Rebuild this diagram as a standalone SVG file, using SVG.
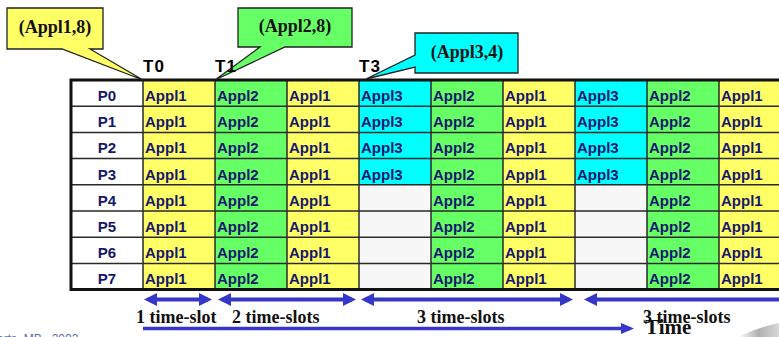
<svg xmlns="http://www.w3.org/2000/svg" width="779" height="337" viewBox="0 0 779 337">
  <style>
    .a1 { fill: #FFFF66; }
    .a2 { fill: #66FF66; }
    .a3 { fill: #00FFFF; }
    .em { fill: #F7F7F7; }
    .lbl { fill: #FFFFFF; }
    .cell { font-family: "Liberation Sans", Arial, sans-serif; font-weight: bold; font-size: 15px; fill: #16166E; }
    .plab { font-family: "Liberation Sans", Arial, sans-serif; font-weight: bold; font-size: 15px; fill: #16166E; text-anchor: middle; }
    .grid { stroke: #2a2a2a; stroke-width: 1.5; fill: none; }
    .frame { stroke: #111; stroke-width: 3; fill: none; }
    .tick { font-family: "Liberation Sans", Arial, sans-serif; font-weight: bold; font-size: 17px; fill: #000; letter-spacing: 1px; }
    .callout { stroke: #222; stroke-width: 1.3; }
    .ctext { font-family: "Liberation Serif", "Times New Roman", serif; font-weight: bold; font-size: 18px; fill: #111; text-anchor: middle; }
    .span { stroke: #3636C8; stroke-width: 4; fill: none; }
    .slot { font-family: "Liberation Serif", "Times New Roman", serif; font-weight: bold; font-size: 18px; fill: #111; }
  </style>
  <defs>
    <marker id="head" markerUnits="userSpaceOnUse" markerWidth="13" markerHeight="13" refX="9" refY="6.5" orient="auto-start-reverse">
      <path d="M0,0 L13,6.5 L0,13 Z" fill="#3636C8"/>
    </marker>
    <marker id="timehead" markerUnits="userSpaceOnUse" markerWidth="13" markerHeight="11" refX="9" refY="5.5" orient="auto">
      <path d="M0,0 L13,5.5 L0,11 Z" fill="#3636C8"/>
    </marker>
    <linearGradient id="swoosh" x1="0" y1="0" x2="1" y2="0">
      <stop offset="0" stop-color="#ffffff"/>
      <stop offset="0.5" stop-color="#b0b0b0"/>
      <stop offset="1" stop-color="#d8d8d8"/>
    </linearGradient>
  </defs>

  <!-- schedule table: cell fills -->
  <g id="table">
    <g id="row-p0">
      <rect class="lbl" x="71" y="80" width="72" height="26.2"/>
      <rect class="a1" x="143" y="80" width="72" height="26.2"/>
      <rect class="a2" x="215" y="80" width="72" height="26.2"/>
      <rect class="a1" x="287" y="80" width="72" height="26.2"/>
      <rect class="a3" x="359" y="80" width="72" height="26.2"/>
      <rect class="a2" x="431" y="80" width="72" height="26.2"/>
      <rect class="a1" x="503" y="80" width="72" height="26.2"/>
      <rect class="a3" x="575" y="80" width="72" height="26.2"/>
      <rect class="a2" x="647" y="80" width="72" height="26.2"/>
      <rect class="a1" x="719" y="80" width="72" height="26.2"/>
    </g>
    <g id="row-p1">
      <rect class="lbl" x="71" y="106.2" width="72" height="26.2"/>
      <rect class="a1" x="143" y="106.2" width="72" height="26.2"/>
      <rect class="a2" x="215" y="106.2" width="72" height="26.2"/>
      <rect class="a1" x="287" y="106.2" width="72" height="26.2"/>
      <rect class="a3" x="359" y="106.2" width="72" height="26.2"/>
      <rect class="a2" x="431" y="106.2" width="72" height="26.2"/>
      <rect class="a1" x="503" y="106.2" width="72" height="26.2"/>
      <rect class="a3" x="575" y="106.2" width="72" height="26.2"/>
      <rect class="a2" x="647" y="106.2" width="72" height="26.2"/>
      <rect class="a1" x="719" y="106.2" width="72" height="26.2"/>
    </g>
    <g id="row-p2">
      <rect class="lbl" x="71" y="132.4" width="72" height="26.2"/>
      <rect class="a1" x="143" y="132.4" width="72" height="26.2"/>
      <rect class="a2" x="215" y="132.4" width="72" height="26.2"/>
      <rect class="a1" x="287" y="132.4" width="72" height="26.2"/>
      <rect class="a3" x="359" y="132.4" width="72" height="26.2"/>
      <rect class="a2" x="431" y="132.4" width="72" height="26.2"/>
      <rect class="a1" x="503" y="132.4" width="72" height="26.2"/>
      <rect class="a3" x="575" y="132.4" width="72" height="26.2"/>
      <rect class="a2" x="647" y="132.4" width="72" height="26.2"/>
      <rect class="a1" x="719" y="132.4" width="72" height="26.2"/>
    </g>
    <g id="row-p3">
      <rect class="lbl" x="71" y="158.6" width="72" height="26.2"/>
      <rect class="a1" x="143" y="158.6" width="72" height="26.2"/>
      <rect class="a2" x="215" y="158.6" width="72" height="26.2"/>
      <rect class="a1" x="287" y="158.6" width="72" height="26.2"/>
      <rect class="a3" x="359" y="158.6" width="72" height="26.2"/>
      <rect class="a2" x="431" y="158.6" width="72" height="26.2"/>
      <rect class="a1" x="503" y="158.6" width="72" height="26.2"/>
      <rect class="a3" x="575" y="158.6" width="72" height="26.2"/>
      <rect class="a2" x="647" y="158.6" width="72" height="26.2"/>
      <rect class="a1" x="719" y="158.6" width="72" height="26.2"/>
    </g>
    <g id="row-p4">
      <rect class="lbl" x="71" y="184.8" width="72" height="26.2"/>
      <rect class="a1" x="143" y="184.8" width="72" height="26.2"/>
      <rect class="a2" x="215" y="184.8" width="72" height="26.2"/>
      <rect class="a1" x="287" y="184.8" width="72" height="26.2"/>
      <rect class="em" x="359" y="184.8" width="72" height="26.2"/>
      <rect class="a2" x="431" y="184.8" width="72" height="26.2"/>
      <rect class="a1" x="503" y="184.8" width="72" height="26.2"/>
      <rect class="em" x="575" y="184.8" width="72" height="26.2"/>
      <rect class="a2" x="647" y="184.8" width="72" height="26.2"/>
      <rect class="a1" x="719" y="184.8" width="72" height="26.2"/>
    </g>
    <g id="row-p5">
      <rect class="lbl" x="71" y="211" width="72" height="26.2"/>
      <rect class="a1" x="143" y="211" width="72" height="26.2"/>
      <rect class="a2" x="215" y="211" width="72" height="26.2"/>
      <rect class="a1" x="287" y="211" width="72" height="26.2"/>
      <rect class="em" x="359" y="211" width="72" height="26.2"/>
      <rect class="a2" x="431" y="211" width="72" height="26.2"/>
      <rect class="a1" x="503" y="211" width="72" height="26.2"/>
      <rect class="em" x="575" y="211" width="72" height="26.2"/>
      <rect class="a2" x="647" y="211" width="72" height="26.2"/>
      <rect class="a1" x="719" y="211" width="72" height="26.2"/>
    </g>
    <g id="row-p6">
      <rect class="lbl" x="71" y="237.2" width="72" height="26.2"/>
      <rect class="a1" x="143" y="237.2" width="72" height="26.2"/>
      <rect class="a2" x="215" y="237.2" width="72" height="26.2"/>
      <rect class="a1" x="287" y="237.2" width="72" height="26.2"/>
      <rect class="em" x="359" y="237.2" width="72" height="26.2"/>
      <rect class="a2" x="431" y="237.2" width="72" height="26.2"/>
      <rect class="a1" x="503" y="237.2" width="72" height="26.2"/>
      <rect class="em" x="575" y="237.2" width="72" height="26.2"/>
      <rect class="a2" x="647" y="237.2" width="72" height="26.2"/>
      <rect class="a1" x="719" y="237.2" width="72" height="26.2"/>
    </g>
    <g id="row-p7">
      <rect class="lbl" x="71" y="263.4" width="72" height="26.2"/>
      <rect class="a1" x="143" y="263.4" width="72" height="26.2"/>
      <rect class="a2" x="215" y="263.4" width="72" height="26.2"/>
      <rect class="a1" x="287" y="263.4" width="72" height="26.2"/>
      <rect class="em" x="359" y="263.4" width="72" height="26.2"/>
      <rect class="a2" x="431" y="263.4" width="72" height="26.2"/>
      <rect class="a1" x="503" y="263.4" width="72" height="26.2"/>
      <rect class="em" x="575" y="263.4" width="72" height="26.2"/>
      <rect class="a2" x="647" y="263.4" width="72" height="26.2"/>
      <rect class="a1" x="719" y="263.4" width="72" height="26.2"/>
    </g>

    <!-- grid rules -->
    <path class="grid" d="M71,106.2 H779 M71,132.4 H779 M71,158.6 H779 M71,184.8 H779 M71,211 H779 M71,237.2 H779 M71,263.4 H779
                          M143,80 V289.6 M215,80 V289.6 M287,80 V289.6 M359,80 V289.6 M431,80 V289.6 M503,80 V289.6 M575,80 V289.6 M647,80 V289.6 M719,80 V289.6"/>
    <path class="frame" d="M779,80 H71 V289.6 H779"/>

    <!-- processor labels -->
    <g>
      <text class="plab" x="107" y="101">P0</text>
      <text class="plab" x="107" y="127.2">P1</text>
      <text class="plab" x="107" y="153.4">P2</text>
      <text class="plab" x="107" y="179.6">P3</text>
      <text class="plab" x="107" y="205.8">P4</text>
      <text class="plab" x="107" y="232">P5</text>
      <text class="plab" x="107" y="258.2">P6</text>
      <text class="plab" x="107" y="284.4">P7</text>
    </g>

    <!-- application names per slot -->
    <g>
      <text class="cell" x="145" y="101">Appl1</text><text class="cell" x="217" y="101">Appl2</text><text class="cell" x="289" y="101">Appl1</text><text class="cell" x="361" y="101">Appl3</text><text class="cell" x="433" y="101">Appl2</text><text class="cell" x="505" y="101">Appl1</text><text class="cell" x="577" y="101">Appl3</text><text class="cell" x="649" y="101">Appl2</text><text class="cell" x="721" y="101">Appl1</text>
      <text class="cell" x="145" y="127.2">Appl1</text><text class="cell" x="217" y="127.2">Appl2</text><text class="cell" x="289" y="127.2">Appl1</text><text class="cell" x="361" y="127.2">Appl3</text><text class="cell" x="433" y="127.2">Appl2</text><text class="cell" x="505" y="127.2">Appl1</text><text class="cell" x="577" y="127.2">Appl3</text><text class="cell" x="649" y="127.2">Appl2</text><text class="cell" x="721" y="127.2">Appl1</text>
      <text class="cell" x="145" y="153.4">Appl1</text><text class="cell" x="217" y="153.4">Appl2</text><text class="cell" x="289" y="153.4">Appl1</text><text class="cell" x="361" y="153.4">Appl3</text><text class="cell" x="433" y="153.4">Appl2</text><text class="cell" x="505" y="153.4">Appl1</text><text class="cell" x="577" y="153.4">Appl3</text><text class="cell" x="649" y="153.4">Appl2</text><text class="cell" x="721" y="153.4">Appl1</text>
      <text class="cell" x="145" y="179.6">Appl1</text><text class="cell" x="217" y="179.6">Appl2</text><text class="cell" x="289" y="179.6">Appl1</text><text class="cell" x="361" y="179.6">Appl3</text><text class="cell" x="433" y="179.6">Appl2</text><text class="cell" x="505" y="179.6">Appl1</text><text class="cell" x="577" y="179.6">Appl3</text><text class="cell" x="649" y="179.6">Appl2</text><text class="cell" x="721" y="179.6">Appl1</text>
      <text class="cell" x="145" y="205.8">Appl1</text><text class="cell" x="217" y="205.8">Appl2</text><text class="cell" x="289" y="205.8">Appl1</text><text class="cell" x="433" y="205.8">Appl2</text><text class="cell" x="505" y="205.8">Appl1</text><text class="cell" x="649" y="205.8">Appl2</text><text class="cell" x="721" y="205.8">Appl1</text>
      <text class="cell" x="145" y="232">Appl1</text><text class="cell" x="217" y="232">Appl2</text><text class="cell" x="289" y="232">Appl1</text><text class="cell" x="433" y="232">Appl2</text><text class="cell" x="505" y="232">Appl1</text><text class="cell" x="649" y="232">Appl2</text><text class="cell" x="721" y="232">Appl1</text>
      <text class="cell" x="145" y="258.2">Appl1</text><text class="cell" x="217" y="258.2">Appl2</text><text class="cell" x="289" y="258.2">Appl1</text><text class="cell" x="433" y="258.2">Appl2</text><text class="cell" x="505" y="258.2">Appl1</text><text class="cell" x="649" y="258.2">Appl2</text><text class="cell" x="721" y="258.2">Appl1</text>
      <text class="cell" x="145" y="284.4">Appl1</text><text class="cell" x="217" y="284.4">Appl2</text><text class="cell" x="289" y="284.4">Appl1</text><text class="cell" x="433" y="284.4">Appl2</text><text class="cell" x="505" y="284.4">Appl1</text><text class="cell" x="649" y="284.4">Appl2</text><text class="cell" x="721" y="284.4">Appl1</text>
    </g>
  </g>

  <!-- callouts marking application arrivals -->
  <g id="callout-appl1">
    <path class="callout a1" d="M7,8 H103 V49 H90 L143,80 L62,49 H7 Z"/>
    <text class="ctext" x="55" y="33">(Appl1,8)</text>
  </g>
  <g id="callout-appl2">
    <path class="callout a2" d="M238,8 H352 V47 H285 L215,80 L260,47 H238 Z"/>
    <text class="ctext" x="295" y="32">(Appl2,8)</text>
  </g>
  <g id="callout-appl3">
    <path class="callout a3" d="M415,33 H518 V73 H415 V67 L366,79 L415,55 Z"/>
    <text class="ctext" x="467" y="58">(Appl3,4)</text>
  </g>

  <!-- time marks -->
  <g id="ticks">
    <text class="tick" x="143" y="72">T0</text>
    <text class="tick" x="215" y="72">T1</text>
    <text class="tick" x="359" y="72">T3</text>
  </g>

  <!-- slot spans and time axis -->
  <g id="connectors">
    <line class="span" x1="148" y1="299.5" x2="208" y2="299.5" marker-start="url(#head)" marker-end="url(#head)"/>
    <line class="span" x1="222" y1="299.5" x2="352" y2="299.5" marker-start="url(#head)" marker-end="url(#head)"/>
    <line class="span" x1="365" y1="299.5" x2="569" y2="299.5" marker-start="url(#head)" marker-end="url(#head)"/>
    <line class="span" x1="588" y1="299.5" x2="790" y2="299.5" marker-start="url(#head)"/>
    <line class="span" style="stroke-width:3.5" x1="143" y1="328.5" x2="630" y2="328.5" marker-end="url(#timehead)"/>
  </g>

  <g id="slot-labels">
    <text class="slot" x="136" y="323">1 time-slot</text>
    <text class="slot" x="232" y="323">2 time-slots</text>
    <text class="slot" x="417" y="323">3 time-slots</text>
    <text class="slot" x="643" y="323">3 time-slots</text>
    <text class="slot" style="font-size:21px" x="645" y="334">Time</text>
  </g>

  <!-- footer credit (cut at page edge) and corner swoosh -->
  <text x="-3" y="343" font-family="'Liberation Sans', Arial, sans-serif" font-size="12" fill="#5a6aa8">erts, MB., 2002</text>
  <path d="M738,337 Q758,327 779,323 L779,337 Z" fill="url(#swoosh)"/>
</svg>
